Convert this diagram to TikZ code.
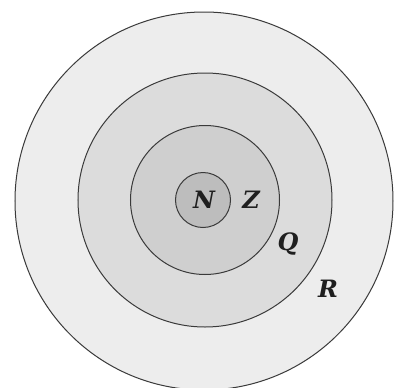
\documentclass[tikz,border=0pt]{standalone}
\usepackage{fontspec}
\newfontfamily\lblfont{DejaVu Serif}
\definecolor{ringA}{HTML}{EDEDED}
\definecolor{ringB}{HTML}{DCDCDC}
\definecolor{ringC}{HTML}{CFCFCF}
\definecolor{ringD}{HTML}{BDBDBD}
\definecolor{edge}{HTML}{3A3A3A}
\tikzset{
  shell/.style={circle, draw=edge, line width=1bp, inner sep=0pt, outer sep=0pt},
  lbl/.style={font=\lblfont\fontsize{24}{28}\selectfont\bfseries\itshape, text=black!88, inner sep=0pt}
}
\begin{document}
\begin{tikzpicture}[x=1bp,y=-1bp]
\useasboundingbox (0,0) rectangle (394,388);
\clip (0,0) rectangle (394,388);
\fill[white] (0,0) rectangle (394,388);
\node[shell, fill=ringA, minimum size=378bp] (outer) at (204,201) {};
\node[shell, fill=ringB, minimum size=254bp] (second) at (205,200) {};
\node[shell, fill=ringC, minimum size=149bp] (third) at (205,200) {};
\node[shell, fill=ringD, minimum size=55bp] (core) at (203,200) {};
\node[lbl] (N) at (204,200) {N};
\node[lbl] (Z) at (251,200) {Z};
\node[lbl] (Q) at (288,244) {Q};
\node[lbl] (R) at (328,289) {R};
\end{tikzpicture}
\end{document}
